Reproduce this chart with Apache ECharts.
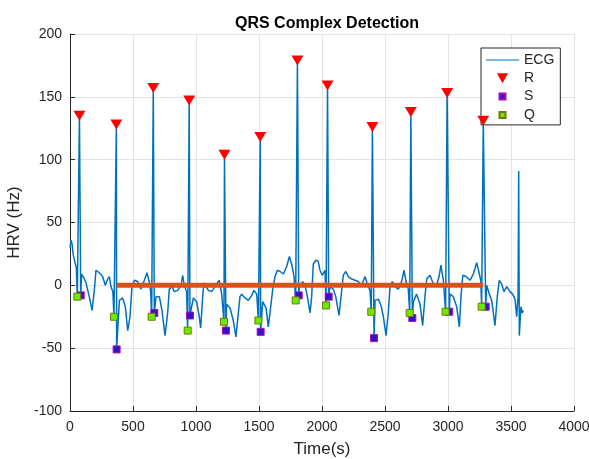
<!DOCTYPE html>
<html>
<head>
<meta charset="utf-8">
<script src="https://cdn.jsdelivr.net/npm/echarts@6/dist/echarts.min.js"></script>
<style>
html,body{margin:0;padding:0;background:#fff;overflow:hidden;}
#chart{width:589px;height:459px;}
</style>
</head>
<body>
<div id="chart"></div>
<script>
// ---- data ----
var ecgTime = [0,8,16,26,40,50,58,75,85,92,110,127,153,175,193,206,233,259,280,299,312,325,340,349,368,370,392,418,439,458,476,492,511,537,563,590,611,630,640,648,661,669,683,709,730,754,775,788,810,828,855,881,894,907,925,934,946,952,979,1005,1026,1037,1053,1063,1098,1124,1151,1169,1185,1204,1222,1226,1238,1243,1270,1296,1317,1336,1349,1362,1389,1415,1442,1460,1482,1495,1510,1513,1529,1556,1574,1593,1609,1627,1646,1667,1693,1720,1741,1759,1778,1791,1805,1815,1820,1847,1865,1884,1905,1918,1931,1952,1970,1984,2002,2024,2032,2044,2053,2063,2090,2109,2135,2151,2169,2188,2209,2236,2262,2288,2315,2341,2363,2381,2391,2400,2413,2421,2447,2468,2487,2508,2526,2540,2558,2579,2606,2632,2651,2667,2685,2696,2705,2717,2725,2751,2778,2799,2817,2831,2857,2884,2910,2929,2944,2963,2981,2993,3010,3016,3042,3069,3090,3103,3117,3143,3175,3201,3228,3249,3260,3267,3280,3299,3307,3328,3347,3373,3391,3407,3426,3444,3466,3492,3513,3532,3545,3556,3561,3566,3579,3590,3598];
var ecgValue = [30,36,33,24,18,14,-9,135,-8,9,6,2,-9,-20,-4,12,10,7,0,5,7,-1,-5,-25,128,-51,-12,-10,-17,-36,-25,-1,4,3,-3,4,10,2,-5,-25,157,-22,-9,-9,-20,-40,-22,-3,-1,-5,-4,0,8,0,-5,-36,147,-24,-10,-13,-25,-34,-9,2,-4,-5,-1,2,4,-7,-29,104,-36,-15,-18,-28,-41,-22,-9,-7,-10,-12,-8,-4,-7,-28,118,-37,-13,-18,-33,-17,-3,7,12,11,9,15,23,17,7,-12,179,-8,-1,3,0,-9,-22,-9,17,20,19,12,8,12,-16,159,-9,-1,-3,-9,-24,-9,8,11,7,5,4,3,0,7,0,-4,-21,126,-42,-12,-11,-16,-25,-40,-22,-1,3,-1,-3,3,12,3,-3,-22,138,-26,-13,-7,-15,-32,-9,5,8,1,0,7,16,4,-21,153,-21,-7,-9,-17,-33,-9,8,7,4,9,18,9,4,-17,131,-17,0,-7,-12,-32,-9,4,1,-5,-1,-5,-7,-11,-25,-9,91,-40,-17,-22,-20];
var rTime  = [75,368,661,946,1226,1510,1805,2044,2400,2705,2993,3280];
var rValue = [135,128,157,147,104,118,179,159,126,138,153,131];
var sTime  = [85,370,669,952,1238,1513,1815,2053,2413,2717,3010,3299];
var sValue = [-8,-51,-22,-24,-36,-37,-8,-9,-42,-26,-21,-17];
var qTime  = [58,349,648,934,1222,1495,1791,2032,2391,2696,2981,3267];
var qValue = [-9,-25,-25,-36,-29,-28,-12,-16,-21,-22,-21,-17];
var baseTime  = [370,3280];
var baseValue = [0,0];
var xTicks = {min:0, max:4000, step:500};
var yTicks = {min:-100, max:200, step:50};

function pairs(t, v){ return t.map(function(x,i){ return [x, v[i]]; }); }

var FONT = '"Liberation Sans", Arial, Helvetica, sans-serif';
var TXT = '#262626';
var triDown = 'path://M0,0L10,0L5,9Z';
var sq = 'path://M0,0L10,0L10,10L0,10Z';
var sqLegend = 'path://M0,0M10,10M2,2L8,2L8,8L2,8Z';

var chart = echarts.init(document.getElementById('chart'), null, {renderer:'canvas'});
chart.setOption({
  animation:false,
  backgroundColor:'#ffffff',
  textStyle:{fontFamily:FONT},
  title:{
    text:'QRS Complex Detection', left:322, textAlign:'center', top:11,
    textStyle:{fontFamily:FONT, fontSize:16, fontWeight:'bold', color:'#000'}
  },
  grid:{left:70, right:15, top:34, bottom:48, outerBoundsMode:'none', containLabel:false},
  legend:{
    data:[
      {name:'ECG', icon:'path://M0,0L40,0L40,1.5L0,1.5Z'},
      {name:'R', icon:triDown},
      {name:'S', icon:sqLegend},
      {name:'Q', icon:sqLegend}
    ],
    orient:'vertical', left:481, top:48,
    itemWidth:33, itemHeight:10, itemGap:4.3,
    symbolKeepAspect:true,
    padding:[5,6,3,5],
    backgroundColor:'#fff', borderColor:'#262626', borderWidth:1,
    textStyle:{fontFamily:FONT, fontSize:14, color:TXT, lineHeight:14},
    selectedMode:false
  },
  xAxis:{
    type:'value', min:xTicks.min, max:xTicks.max, interval:xTicks.step,
    name:'Time(s)', nameLocation:'middle', nameGap:30,
    nameTextStyle:{fontFamily:FONT, fontSize:17, color:TXT},
    axisLine:{show:true, onZero:false, lineStyle:{color:TXT, width:1}},
    axisTick:{show:true, inside:true, length:5, lineStyle:{color:TXT}},
    axisLabel:{fontFamily:FONT, fontSize:14, color:TXT, margin:9, formatter:function(v){return String(v);}},
    splitLine:{show:true, lineStyle:{color:'#e3e3e3', width:1}}
  },
  yAxis:{
    type:'value', min:yTicks.min, max:yTicks.max, interval:yTicks.step,
    name:'HRV (Hz)', nameLocation:'middle', nameGap:39, nameRotate:90,
    nameTextStyle:{fontFamily:FONT, fontSize:17, color:TXT},
    axisLine:{show:true, onZero:false, lineStyle:{color:TXT, width:1}},
    axisTick:{show:true, inside:true, length:5, lineStyle:{color:TXT}},
    axisLabel:{fontFamily:FONT, fontSize:14, color:TXT, margin:8, formatter:function(v){return String(v);}},
    splitLine:{show:true, lineStyle:{color:'#e3e3e3', width:1}}
  },
  series:[
    {name:'ECG', type:'line', data:pairs(ecgTime, ecgValue), showSymbol:false, symbol:'none',
     lineStyle:{color:'#0072BD', width:1.5}, itemStyle:{color:'#0072BD'}, z:2},
    {name:'baseline', type:'line', data:pairs(baseTime, baseValue), showSymbol:false, symbol:'none',
     lineStyle:{color:'#D95319', width:5}, z:3},
    {name:'R', type:'scatter', data:pairs(rTime, rValue), symbol:triDown, symbolSize:[12,10],
     itemStyle:{color:'#FF0000', opacity:1}, z:4},
    {name:'S', type:'scatter', data:pairs(sTime, sValue), symbol:sq, symbolSize:7,
     itemStyle:{color:'#3311CC', borderColor:'#AA11AA', borderWidth:1, opacity:1}, z:5},
    {name:'Q', type:'scatter', data:pairs(qTime, qValue), symbol:sq, symbolSize:7,
     itemStyle:{color:'#66EE00', borderColor:'#777700', borderWidth:1, opacity:1}, z:6}
  ]
});
</script>
</body>
</html>
